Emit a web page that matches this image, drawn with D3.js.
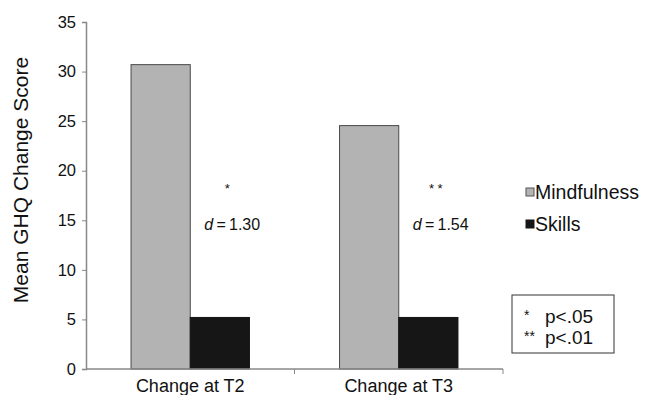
<!DOCTYPE html>
<html>
<head>
<meta charset="utf-8">
<script src="https://cdn.jsdelivr.net/npm/d3@7"></script>
<style>
  body { margin: 0; background: #fff; }
  text { font-family: "Liberation Sans", Arial, sans-serif; fill: #111; }
</style>
</head>
<body>
<svg id="chart" width="648" height="395"></svg>
<script>
const width = 648;
const height = 395;

// data
const categories = ["Change at T2", "Change at T3"];
const groups = ["Mindfulness", "Skills"];
const mindfulness = [30.7, 24.55];
const skills = [5.2, 5.2];
const stars = ["*", "* *"];
const effects = ["1.30", "1.54"];
const yTicks = [0, 5, 10, 15, 20, 25, 30, 35];
const sigNotes = [["*", "p<.05"], ["**", "p<.01"]];

const colors = {Mindfulness: "#b3b3b3", Skills: "#161616"};
const margin = {l: 86, r: 145, t: 22, b: 26};

const svg = d3.select("#chart");

const x = d3.scaleBand().domain(categories).range([margin.l, 503]);
const xInner = d3.scaleBand().domain(groups).range([x.bandwidth() * 0.216, x.bandwidth() * 0.784]);
const y = d3.scaleLinear().domain([0, 35]).range([369, margin.t]);

const rows = categories.map((c, i) => ({cat: c, Mindfulness: mindfulness[i], Skills: skills[i]}));

// bars
const g = svg.append("g");
rows.forEach(r => {
  groups.forEach(k => {
    g.append("rect")
      .attr("x", x(r.cat) + xInner(k))
      .attr("y", y(r[k]))
      .attr("width", xInner.bandwidth())
      .attr("height", y(0) - y(r[k]))
      .attr("fill", colors[k])
      .attr("stroke", k === "Skills" ? "#161616" : "#4a4a4a")
      .attr("stroke-width", 1);
  });
});

// y axis
const yAxis = svg.append("g")
  .attr("transform", `translate(${margin.l},0)`)
  .call(d3.axisLeft(y).tickValues(yTicks).tickSize(4).tickPadding(6));
yAxis.select(".domain").attr("stroke", "#888").attr("stroke-width", 1.5);
yAxis.selectAll(".tick line").attr("stroke", "#888");
yAxis.selectAll(".tick text")
  .style("font-size", "16.5px")
  .style("font-family", "Liberation Sans, Arial, sans-serif")
  .attr("fill", "#111");

// x axis
const xAxisG = svg.append("g").attr("transform", `translate(0,${y(0)})`);
xAxisG.append("line")
  .attr("x1", margin.l).attr("x2", 503)
  .attr("stroke", "#888").attr("stroke-width", 1.5);
[x(categories[1]), 503].forEach(px => {
  xAxisG.append("line")
    .attr("x1", px).attr("x2", px).attr("y1", 0).attr("y2", 5)
    .attr("stroke", "#888");
});
categories.forEach(c => {
  xAxisG.append("text")
    .attr("x", x(c) + x.bandwidth() / 2)
    .attr("y", 23)
    .attr("text-anchor", "middle")
    .style("font-size", "18px")
    .text(c);
});

// y label
svg.append("text")
  .attr("transform", "translate(28,180) rotate(-90)")
  .attr("text-anchor", "middle")
  .style("font-size", "21px")
  .text("Mean GHQ Change Score");

// significance annotations
categories.forEach((c, i) => {
  const cx = x(c) + x.bandwidth() / 2;
  svg.append("text")
    .attr("x", cx + 37)
    .attr("y", y(17.8))
    .attr("text-anchor", "middle")
    .style("font-size", "13px")
    .text(stars[i]);
  const t = svg.append("text")
    .attr("x", cx + 42)
    .attr("y", y(14))
    .attr("text-anchor", "middle")
    .style("font-size", "16px");
  t.append("tspan").style("font-style", "italic").text("d");
  t.append("tspan").text("\u2009=\u2009" + effects[i]);
});

// legend
const leg = svg.append("g").attr("transform", "translate(526,0)");
groups.forEach((k, i) => {
  const yy = 188 + i * 32;
  leg.append("rect")
    .attr("x", 0).attr("y", yy)
    .attr("width", 8).attr("height", 8)
    .attr("fill", colors[k])
    .attr("stroke", k === "Skills" ? "#161616" : "#555");
  leg.append("text")
    .attr("x", 9).attr("y", yy + 11)
    .style("font-size", "19.5px")
    .text(k);
});

// p-value box
svg.append("rect")
  .attr("x", 512).attr("y", 295)
  .attr("width", 102).attr("height", 58)
  .attr("fill", "none").attr("stroke", "#333");
sigNotes.forEach((n, i) => {
  const t = svg.append("text")
    .attr("x", 524).attr("y", 323 + i * 21)
    .style("font-size", "19px");
  t.append("tspan").style("font-size", "14px").attr("dy", -3).text(n[0]);
  t.append("tspan").attr("x", 545).attr("dy", 3).text(n[1]);
});
</script>
</body>
</html>
